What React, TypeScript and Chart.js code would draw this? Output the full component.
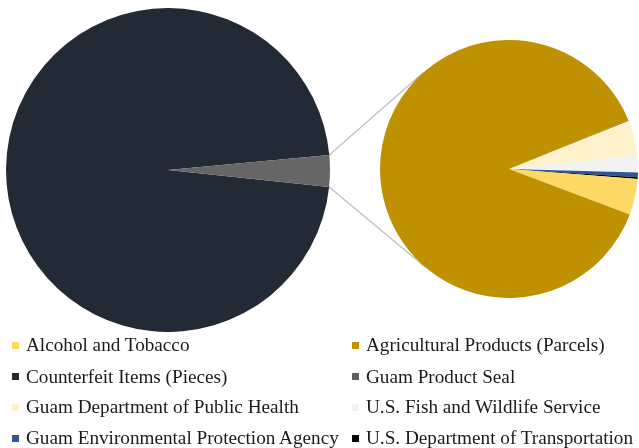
import React, { useEffect, useRef } from "react";
import { Chart, registerables } from "chart.js";

Chart.register(...registerables);

const categories = [
  "Alcohol and Tobacco",
  "Agricultural Products (Parcels)",
  "Counterfeit Items (Pieces)",
  "Guam Product Seal",
  "Guam Department of Public Health",
  "U.S. Fish and Wildlife Service",
  "Guam Environmental Protection Agency",
  "U.S. Department of Transportation",
];
const values = [45, 882, 30900, 1, 44, 21, 6, 2];
const colors = ["#FFD966", "#BF9000", "#222A35", "#5F5F5F", "#FFF2CC", "#F2F2F2", "#2F5597", "#000000"];
const otherColor = "#666666";

// which categories go to the primary pie, and which are split into the secondary pie (in drawing order)
const primaryIdx = [2];
const secondaryIdx = [3, 4, 5, 6, 7, 0, 1];
const otherValue = secondaryIdx.reduce((s, i) => s + values[i], 0);

const P = { left: 6, top: 8, size: 324 };
const S = { left: 380, top: 40, size: 258 };

export default function App() {
  const c1 = useRef<HTMLCanvasElement>(null);
  const c2 = useRef<HTMLCanvasElement>(null);
  const c3 = useRef<HTMLCanvasElement>(null);

  useEffect(() => {
    const common = {
      responsive: false,
      animation: false as const,
      events: [] as any[],
      layout: { padding: 0 },
      plugins: { legend: { display: false }, tooltip: { enabled: false } },
    };
    const ch1 = new Chart(c1.current!, {
      type: "pie",
      data: {
        labels: [...primaryIdx.map((i) => categories[i]), "Other"],
        datasets: [
          {
            data: [...primaryIdx.map((i) => values[i]), otherValue],
            backgroundColor: [...primaryIdx.map((i) => colors[i]), otherColor],
            borderWidth: 0,
            hoverOffset: 0,
            offset: 0,
          },
        ],
      },
      options: { ...common, rotation: 96 },
    });
    const ch2 = new Chart(c2.current!, {
      type: "pie",
      data: {
        labels: secondaryIdx.map((i) => categories[i]),
        datasets: [
          {
            data: secondaryIdx.map((i) => values[i]),
            backgroundColor: secondaryIdx.map((i) => colors[i]),
            borderWidth: 0,
            hoverOffset: 0,
            offset: 0,
          },
        ],
      },
      options: { ...common, rotation: 67.8 },
    });

    // connector lines
    const ctx = c3.current!.getContext("2d")!;
    const otherArc: any = ch1.getDatasetMeta(0).data[primaryIdx.length];
    const sArc: any = ch2.getDatasetMeta(0).data[0];
    const px = P.left + otherArc.x;
    const py = P.top + otherArc.y;
    const r1 = otherArc.outerRadius;
    const cx = S.left + sArc.x;
    const cy = S.top + sArc.y;
    const r2 = sArc.outerRadius;
    const ends = [otherArc.startAngle, otherArc.endAngle].map((a: number) => ({
      x: px + r1 * Math.cos(a),
      y: py + r1 * Math.sin(a),
    }));
    ends.sort((a, b) => a.y - b.y);
    ctx.strokeStyle = "#BFBFBF";
    ctx.lineWidth = 1.3;
    ends.forEach((p, k) => {
      const dx = p.x - cx;
      const dy = p.y - cy;
      const d = Math.hypot(dx, dy);
      const th = Math.atan2(dy, dx);
      const al = Math.acos(r2 / d);
      const cands = [th + al, th - al].map((a) => ({ x: cx + r2 * Math.cos(a), y: cy + r2 * Math.sin(a) }));
      cands.sort((a, b) => a.y - b.y);
      const t = k === 0 ? cands[0] : cands[1];
      ctx.beginPath();
      ctx.moveTo(p.x, p.y);
      ctx.lineTo(t.x, t.y);
      ctx.stroke();
    });

    return () => {
      ch1.destroy();
      ch2.destroy();
      ctx.clearRect(0, 0, 639, 448);
    };
  }, []);

  const colX = [12, 352];
  const rowY = [345, 376.5, 407, 438];

  return (
    <div
      style={{
        position: "fixed",
        left: 0,
        top: 0,
        width: 639,
        height: 448,
        overflow: "hidden",
        background: "#fff",
        fontFamily: '"Liberation Serif", "Times New Roman", serif',
      }}
    >
      <canvas ref={c3} width={639} height={448} style={{ position: "absolute", left: 0, top: 0 }} />
      <canvas
        ref={c1}
        width={P.size}
        height={P.size}
        style={{ position: "absolute", left: P.left, top: P.top, width: P.size, height: P.size }}
      />
      <canvas
        ref={c2}
        width={S.size}
        height={S.size}
        style={{ position: "absolute", left: S.left, top: S.top, width: S.size, height: S.size }}
      />
      {categories.map((c, i) => {
        const row = Math.floor(i / 2);
        const col = i % 2;
        return (
          <div
            key={c}
            style={{
              position: "absolute",
              left: colX[col],
              top: rowY[row] - 12,
              height: 24,
              display: "flex",
              alignItems: "center",
              whiteSpace: "nowrap",
              fontSize: 19.2,
              color: "#1a1a1a",
            }}
          >
            <span style={{ display: "inline-block", width: 7, height: 7, background: colors[i], marginRight: 7 }} />
            <span>{c}</span>
          </div>
        );
      })}
    </div>
  );
}
